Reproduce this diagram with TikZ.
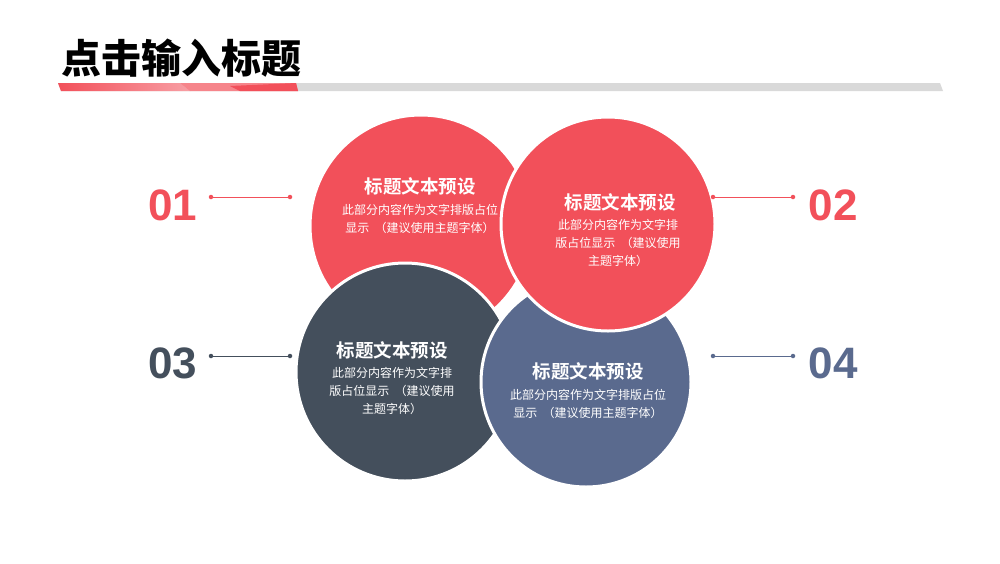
\documentclass[tikz,border=0pt]{standalone}
\usepackage{fontspec}
\setmainfont{Liberation Sans}
\newfontfamily\cjk{Noto Sans CJK SC}[BoldFont=Noto Sans CJK SC Bold]
\newfontfamily\cjkb{Noto Sans CJK SC Black}
\definecolor{myred}{HTML}{F2505A}
\definecolor{mydark}{HTML}{444F5C}
\definecolor{myblue}{HTML}{5A6A8E}
\definecolor{mygray}{HTML}{D9D9D9}
\begin{document}
\begin{tikzpicture}[x=1pt,y=-1pt,
  circ/.style={circle,draw=white,line width=3pt,minimum size=#1,inner sep=0pt},
  ttl/.style={text=white,font=\cjk\bfseries\fontsize{18.5}{20}\selectfont,inner sep=0pt},
  body/.style={text=white,font=\cjk\fontsize{12}{18}\selectfont,align=center,inner sep=0pt},
  num/.style={font=\bfseries\fontsize{44}{44}\selectfont,inner sep=0pt},
  dot/.style={circle,fill=#1,inner sep=0pt,minimum size=4.5pt}]
\useasboundingbox (0,0) rectangle (1000,563);
\fill[white] (0,0) rectangle (1000,563);
% title
\node[anchor=west,font=\cjkb\fontsize{40}{40}\selectfont,inner sep=0pt] (title) at (61,58) {点击输入标题};
\fill[mygray] (58,83) -- (940,83) -- (943,91) -- (61,91) -- cycle;
\shade[left color=myred,right color=myred!55] (58,83) -- (180,83) -- (190,91) -- (61,91) -- cycle;
\fill[myred!70] (180,83) -- (296,83) -- (298,91) -- (190,91) -- cycle;
\fill[myred] (230,86) -- (296,83) -- (298,91) -- (240,91) -- cycle;
% circles
\node[circ=222pt,fill=myred] (c1) at (421,226) {};
\node[circ=218pt,fill=mydark] (c3) at (405,372) {};
\node[circ=210pt,fill=myblue] (c4) at (586,382) {};
\node[circ=214pt,fill=myred] (c2) at (608,224) {};
% texts
\node[ttl] (t1) at (420,186) {标题文本预设};
\node[body] (b1) at (420,219) {此部分内容作为文字排版占位\\显示\ \ （建议使用主题字体）};
\node[ttl] (t2) at (620,202) {标题文本预设};
\node[body] (b2) at (618,243) {此部分内容作为文字排\\版占位显示\ \ （建议使用\\主题字体）};
\node[ttl] (t3) at (392,350) {标题文本预设};
\node[body] (b3) at (392,391) {此部分内容作为文字排\\版占位显示\ \ （建议使用\\主题字体）};
\node[ttl] (t4) at (588,371) {标题文本预设};
\node[body] (b4) at (588,404) {此部分内容作为文字排版占位\\显示\ \ （建议使用主题字体）};
% numbers and lines
\node[num,text=myred] (n1) at (173,205) {01};
\node[num,text=myred] (n2) at (833,205) {02};
\node[num,text=mydark] (n3) at (173,363) {03};
\node[num,text=myblue] (n4) at (833,363) {04};
\node[dot=myred] (d1a) at (211,197) {}; \node[dot=myred] (d1b) at (290,197) {};
\node[dot=myred] (d2a) at (713,197) {}; \node[dot=myred] (d2b) at (793,197) {};
\node[dot=mydark] (d3a) at (211,356) {}; \node[dot=mydark] (d3b) at (290,356) {};
\node[dot=myblue] (d4a) at (713,356) {}; \node[dot=myblue] (d4b) at (793,356) {};
\draw[myred,line width=0.8pt] (d1a) -- (d1b);
\draw[myred,line width=0.8pt] (d2a) -- (d2b);
\draw[mydark,line width=0.8pt] (d3a) -- (d3b);
\draw[myblue,line width=0.8pt] (d4a) -- (d4b);
\end{tikzpicture}
\end{document}
